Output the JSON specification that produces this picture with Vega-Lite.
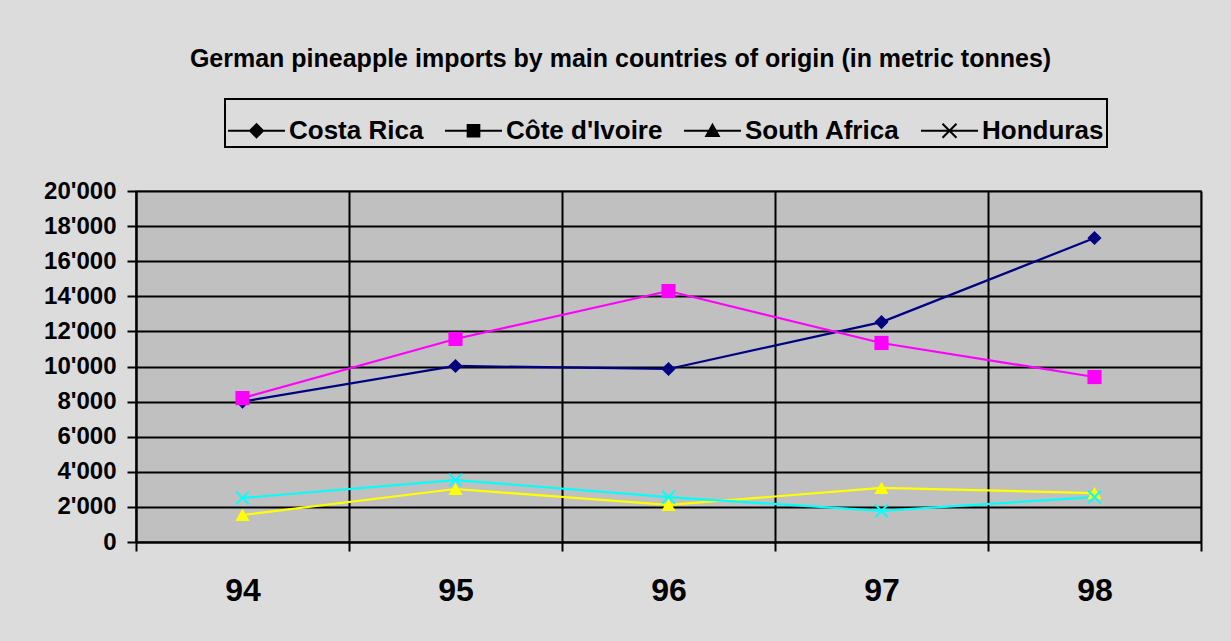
{
  "$schema": "https://vega.github.io/schema/vega-lite/v6.json",
  "width": 1065,
  "height": 351,
  "autosize": {"type": "none"},
  "padding": {"left": 136, "top": 191, "right": 30, "bottom": 99},
  "background": "#dcdcdc",
  "title": {
    "text": "German pineapple imports by main countries of origin (in metric tonnes)",
    "font": "Liberation Sans",
    "fontSize": 25,
    "fontWeight": "bold",
    "color": "black",
    "anchor": "middle",
    "frame": "group",
    "dx": -48,
    "offset": 26
  },
  "data": {
    "values": [
      {"Country": "Costa Rica", "Year": "94", "Tonnes": 8000},
      {"Country": "Costa Rica", "Year": "95", "Tonnes": 10030},
      {"Country": "Costa Rica", "Year": "96", "Tonnes": 9860},
      {"Country": "Costa Rica", "Year": "97", "Tonnes": 12530},
      {"Country": "Costa Rica", "Year": "98", "Tonnes": 17320},
      {"Country": "Côte d'Ivoire", "Year": "94", "Tonnes": 8200},
      {"Country": "Côte d'Ivoire", "Year": "95", "Tonnes": 11570},
      {"Country": "Côte d'Ivoire", "Year": "96", "Tonnes": 14300},
      {"Country": "Côte d'Ivoire", "Year": "97", "Tonnes": 11340},
      {"Country": "Côte d'Ivoire", "Year": "98", "Tonnes": 9400},
      {"Country": "South Africa", "Year": "94", "Tonnes": 1540},
      {"Country": "South Africa", "Year": "95", "Tonnes": 3020},
      {"Country": "South Africa", "Year": "96", "Tonnes": 2110},
      {"Country": "South Africa", "Year": "97", "Tonnes": 3080},
      {"Country": "South Africa", "Year": "98", "Tonnes": 2790},
      {"Country": "Honduras", "Year": "94", "Tonnes": 2510},
      {"Country": "Honduras", "Year": "95", "Tonnes": 3530},
      {"Country": "Honduras", "Year": "96", "Tonnes": 2560},
      {"Country": "Honduras", "Year": "97", "Tonnes": 1770},
      {"Country": "Honduras", "Year": "98", "Tonnes": 2560}
    ]
  },
  "encoding": {
    "x": {
      "field": "Year",
      "type": "ordinal",
      "scale": {"type": "band", "paddingInner": 0, "paddingOuter": 0},
      "axis": {
        "title": null,
        "tickBand": "extent",
        "grid": true,
        "tickSize": 9,
        "labelFontSize": 32,
        "labelPadding": 24,
        "labelAngle": 0
      }
    },
    "y": {
      "field": "Tonnes",
      "type": "quantitative",
      "scale": {"domain": [0, 20000], "nice": false},
      "axis": {
        "title": null,
        "values": [0, 2000, 4000, 6000, 8000, 10000, 12000, 14000, 16000, 18000, 20000],
        "format": ",d",
        "tickSize": 9,
        "labelFontSize": 24,
        "labelPadding": 11
      }
    },
    "color": {
      "field": "Country",
      "type": "nominal",
      "legend": null,
      "scale": {
        "domain": ["Costa Rica", "Côte d'Ivoire", "South Africa", "Honduras"],
        "range": ["#000080", "#FF00FF", "#FFFF00", "#00FFFF"]
      }
    }
  },
  "layer": [
    {
      "mark": {"type": "line", "strokeWidth": 2.2}
    },
    {
      "mark": {"type": "point", "filled": true, "opacity": 1, "size": 200, "strokeWidth": 0},
      "encoding": {
        "shape": {
          "field": "Country", "type": "nominal", "legend": null,
          "scale": {
            "domain": ["Costa Rica", "Côte d'Ivoire", "South Africa", "Honduras"],
            "range": ["diamond", "square", "triangle-up", "M-1,-0.8L-0.8,-1L1,0.8L0.8,1Z M-1,0.8L0.8,-1L1,-0.8L-0.8,1Z"]
          }
        }
      }
    },
    {
      "mark": {"type": "point", "filled": true, "opacity": 0, "size": 3249, "strokeWidth": 0},
      "encoding": {
        "shape": {
          "field": "Country", "type": "nominal",
          "scale": {
            "domain": ["Costa Rica", "Côte d'Ivoire", "South Africa", "Honduras"],
            "range": [
              "M-1,-0.038H1V0.038H-1Z M0,-0.28L0.28,0L0,0.28L-0.28,0Z",
              "M-1,-0.038H1V0.038H-1Z M-0.24,-0.24H0.24V0.24H-0.24Z",
              "M-1,-0.038H1V0.038H-1Z M0,-0.28L0.28,0.22L-0.28,0.22Z",
              "M-1,-0.038H1V0.038H-1Z M-0.27,-0.22L-0.22,-0.27L0.27,0.22L0.22,0.27Z M-0.27,0.22L0.22,-0.27L0.27,-0.22L-0.22,0.27Z"
            ]
          },
          "legend": {
            "title": null,
            "orient": "none",
            "legendX": 89,
            "legendY": -92,
            "direction": "horizontal",
            "symbolSize": 3249,
            "symbolStrokeWidth": 0,
            "symbolOpacity": 1,
            "labelFont": "Liberation Sans",
            "labelFontSize": 26,
            "labelFontWeight": "bold",
            "labelColor": "black",
            "labelLimit": 400,
            "labelOffset": 4,
            "columnPadding": 21,
            "padding": 3,
            "strokeColor": "black",
            "encode": {
              "symbols": {
                "fill": {"value": {"expr": "datum.value == 'Costa Rica' ? '#000080' : (datum.value == 'South Africa' ? '#FFFF00' : (datum.value == 'Honduras' ? '#00FFFF' : '#FF00FF'))"}},
                "fillOpacity": {"value": 1},
                "opacity": {"value": 1}
              }
            }
          }
        }
      }
    }
  ],
  "resolve": {"scale": {"shape": "independent"}},
  "config": {
    "locale": {
      "number": {"decimal": ".", "thousands": "'", "grouping": [3], "currency": ["", ""]}
    },
    "view": {"stroke": "#808080", "strokeWidth": 2, "fill": "#C0C0C0"},
    "legend": {"strokeWidth": 2},
    "axis": {
      "domainColor": "black",
      "domainWidth": 2,
      "tickColor": "black",
      "tickWidth": 2,
      "gridColor": "black",
      "gridWidth": 2,
      "gridOpacity": 1,
      "labelFont": "Liberation Sans",
      "labelFontWeight": "bold",
      "labelColor": "black"
    }
  }
}
